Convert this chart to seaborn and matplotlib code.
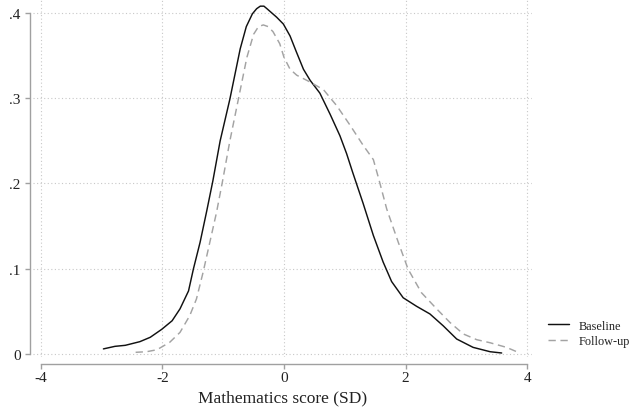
import matplotlib
matplotlib.use("Agg")
import matplotlib.pyplot as plt
import seaborn as sns
import pandas as pd

# Baseline density
baseline_x = [-2.97, -2.78, -2.61, -2.37, -2.20, -2.01, -1.84, -1.71, -1.57, -1.49,
              -1.38, -1.27, -1.17, -1.05, -0.89, -0.72, -0.62, -0.52, -0.45, -0.39,
              -0.33, -0.28, -0.20, -0.12, -0.01, 0.10, 0.20, 0.32, 0.43, 0.59, 0.76,
              0.92, 1.03, 1.13, 1.30, 1.47, 1.63, 1.77, 1.96, 2.18, 2.40, 2.62, 2.84,
              3.11, 3.39, 3.58]
baseline_y = [0.006, 0.009, 0.0102, 0.0145, 0.0196, 0.029, 0.039, 0.053, 0.074, 0.0997,
              0.131, 0.168, 0.203, 0.250, 0.299, 0.358, 0.384, 0.399, 0.405, 0.408,
              0.408, 0.405, 0.400, 0.395, 0.387, 0.373, 0.355, 0.334, 0.321, 0.306, 0.281,
              0.256, 0.235, 0.213, 0.177, 0.139, 0.108, 0.085, 0.066, 0.056, 0.047, 0.033,
              0.0176, 0.0078, 0.0027, 0.0012]

# Follow-up density
follow_x = [-2.44, -2.26, -2.09, -1.88, -1.71, -1.55, -1.44, -1.33, -1.22, -1.11,
            -1.01, -0.89, -0.75, -0.61, -0.50, -0.42, -0.34, -0.26, -0.18, -0.07,
            0.00, 0.10, 0.21, 0.43, 0.65, 0.87, 1.09, 1.30, 1.47, 1.56, 1.69, 1.88,
            2.04, 2.26, 2.51, 2.73, 2.95, 3.17, 3.39, 3.66, 3.85]
follow_y = [0.002, 0.0027, 0.005, 0.0137, 0.0254, 0.045, 0.0645, 0.096, 0.131, 0.166,
            0.203, 0.250, 0.299, 0.348, 0.375, 0.384, 0.386, 0.384, 0.378, 0.364,
            0.348, 0.334, 0.327, 0.319, 0.310, 0.291, 0.268, 0.245, 0.228, 0.205, 0.170,
            0.131, 0.0997, 0.072, 0.053, 0.037, 0.0235, 0.0168, 0.0132, 0.0078, 0.002]

series_names = ["Baseline", "Follow-up"]
x_ticks = [-4, -2, 0, 2, 4]
x_tick_labels = ["-4", "-2", "0", "2", "4"]
y_ticks = [0, 0.1, 0.2, 0.3, 0.4]
y_tick_labels = ["0", ".1", ".2", ".3", ".4"]
x_label = "Mathematics score (SD)"

sns.set_style("white")
plt.rcParams["font.family"] = ["Liberation Serif", "DejaVu Serif"]

df_base = pd.DataFrame({"x": baseline_x, "y": baseline_y})
df_fol = pd.DataFrame({"x": follow_x, "y": follow_y})

fig = plt.figure(figsize=(6.37, 4.14), dpi=100)
ax = fig.add_axes([33 / 637, 1 - 358 / 414, (532 - 33) / 637, 358 / 414])

sns.lineplot(data=df_base, x="x", y="y", ax=ax, color="#111111", linewidth=1.05,
             estimator=None, label=series_names[0])
sns.lineplot(data=df_fol, x="x", y="y", ax=ax, color="#a3a3a3", linewidth=1.05,
             estimator=None, label=series_names[1], dashes=False)
ax.lines[0].set_solid_joinstyle("round")
ax.lines[1].set_dashes((5, 3.2))

ax.set_xlim(-4.128, 4.079)
ax.set_ylim(-0.0035, 0.4164)
ax.set_xticks(x_ticks)
ax.set_xticklabels(x_tick_labels)
ax.set_yticks(y_ticks)
ax.set_yticklabels(y_tick_labels)

ax.grid(True, linestyle=(0, (1, 2.2)), color="#c8c8c8", linewidth=0.8)
ax.set_axisbelow(True)

for s in ["top", "right"]:
    ax.spines[s].set_visible(False)
ax.spines["left"].set_position(("outward", 2.2))
ax.spines["bottom"].set_position(("outward", 4.7))
ax.spines["left"].set_bounds(0, 0.4)
ax.spines["bottom"].set_bounds(-4, 4)
for s in ["left", "bottom"]:
    ax.spines[s].set_color("#a0a0a0")
    ax.spines[s].set_linewidth(1.0)

ax.tick_params(axis="both", which="major", length=3.6, width=1.0, color="#a0a0a0",
               labelsize=11, labelcolor="#222222", direction="out",
               bottom=True, left=True)
ax.tick_params(axis="y", pad=3)
ax.tick_params(axis="x", pad=2)

ax.set_xlabel(x_label, fontsize=12.5, color="#222222", labelpad=4)
ax.set_ylabel("")

leg = ax.legend(loc="center left", bbox_to_anchor=(548 / 637, 1 - 334.5 / 414),
                bbox_transform=fig.transFigure, frameon=False, fontsize=8.8,
                handlelength=1.7, handletextpad=0.8, labelspacing=0.3,
                borderpad=0, borderaxespad=0)
for t in leg.get_texts():
    t.set_color("#222222")

fig.savefig("out.png", dpi=100)
